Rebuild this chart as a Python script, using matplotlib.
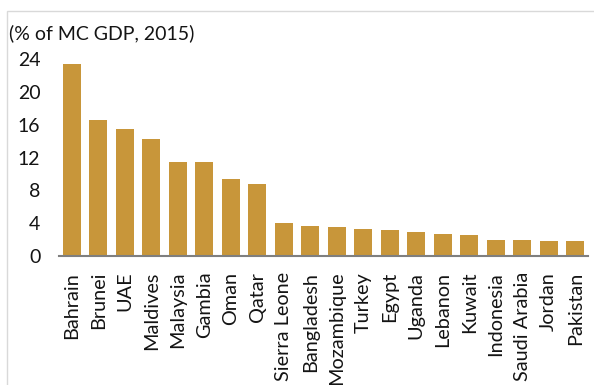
import matplotlib
matplotlib.use("Agg")
import matplotlib.pyplot as plt
from matplotlib.patches import Rectangle

countries = ["Bahrain", "Brunei", "UAE", "Maldives", "Malaysia", "Gambia", "Oman",
             "Qatar", "Sierra Leone", "Bangladesh", "Mozambique", "Turkey", "Egypt",
             "Uganda", "Lebanon", "Kuwait", "Indonesia", "Saudi Arabia", "Jordan",
             "Pakistan"]
values = [23.3, 16.5, 15.5, 14.2, 11.5, 11.4, 9.4, 8.8, 4.0, 3.7, 3.6, 3.3, 3.2,
          3.0, 2.7, 2.6, 1.95, 1.95, 1.85, 1.85]
yticks = [0, 4, 8, 12, 16, 20, 24]

plt.rcParams['font.family'] = ['Lato', 'DejaVu Sans']

fig = plt.figure(figsize=(5.94, 3.85), dpi=100)
ax = fig.add_axes([0.0985, 0.3338, 0.8922, 0.5142])

x = range(len(countries))
ax.bar(x, values, width=0.67, color="#C8963A", zorder=2)

ax.set_xlim(-0.5, len(countries) - 0.5)
ax.set_ylim(0, 24)
ax.set_yticks(yticks)
ax.set_xticks(list(x))
ax.set_xticklabels(countries, rotation=90, fontsize=14.3, color="#141414")
ax.tick_params(axis='y', labelsize=14, length=0, pad=13, colors="#141414")
ax.tick_params(axis='x', length=0, pad=11)

for side in ("top", "right", "left"):
    ax.spines[side].set_visible(False)
ax.spines["bottom"].set_color("#7f7f7f")
ax.spines["bottom"].set_linewidth(1.5)
ax.spines["bottom"].set_zorder(3)

fig.text(0.015, 0.915, "(% of MC GDP, 2015)", fontsize=14, color="#141414",
         ha="left", va="center")

# thin frame around the chart area
frame = Rectangle((7 / 594, -0.05), 1.2, (385 - 10.5) / 385 + 0.05,
                  transform=fig.transFigure, fill=False,
                  edgecolor="#d9d9d9", linewidth=1.0, clip_on=False)
fig.patches.append(frame)

fig.savefig("out.png", dpi=100)
